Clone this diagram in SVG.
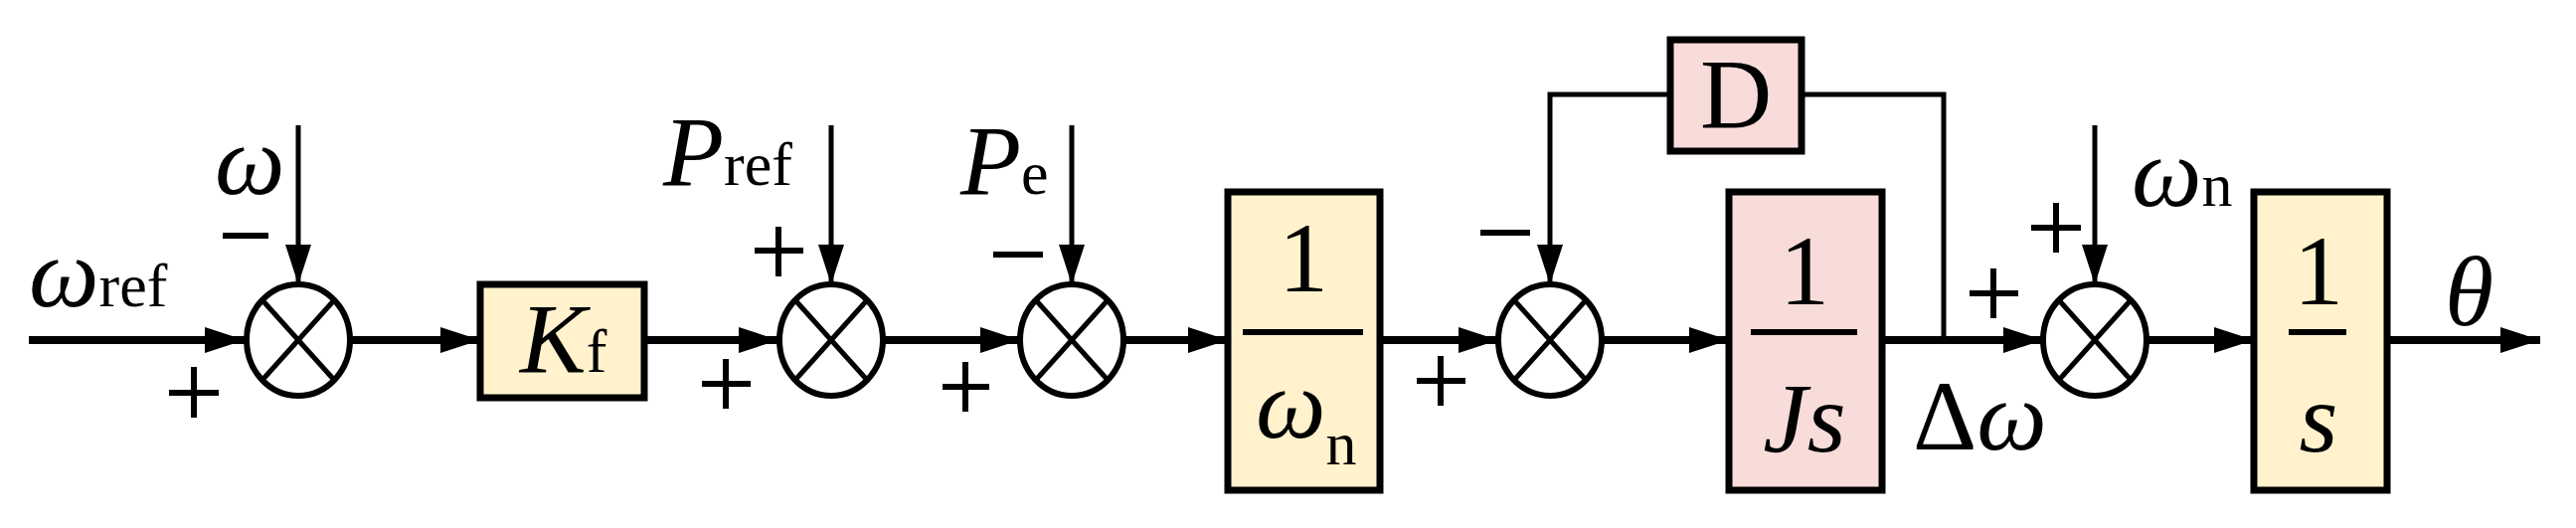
<svg xmlns="http://www.w3.org/2000/svg" width="2591" height="531" viewBox="0 0 2591 531">
<style>
.w{stroke:#000;stroke-width:8;fill:none}
.v{stroke:#000;stroke-width:5;fill:none}
.s{fill:#fff;stroke:#000;stroke-width:6}
.x{stroke:#000;stroke-width:5}
.y{fill:#FFF2CC;stroke:#000;stroke-width:7}
.p{fill:#F8DCDA;stroke:#000;stroke-width:7}
text{font-family:"Liberation Serif",serif;font-size:100px;fill:#000}
.i{font-style:italic}
.sub{font-size:62px;font-style:normal}
.sg{stroke:#000;stroke-width:6}
</style>
<defs>
<marker id="a" markerUnits="userSpaceOnUse" markerWidth="42" markerHeight="26" refX="40" refY="13" orient="auto"><path d="M0,0L40,13L0,26Z" fill="#000"/></marker>
</defs>
<g id="connectors">
<path class="w" d="M29,342H246" marker-end="url(#a)"/>
<path class="v" d="M300,126V286" marker-end="url(#a)"/>
<path class="w" d="M353,342H483" marker-end="url(#a)"/>
<path class="w" d="M648,342H783" marker-end="url(#a)"/>
<path class="v" d="M836,126V286" marker-end="url(#a)"/>
<path class="w" d="M889,342H1026" marker-end="url(#a)"/>
<path class="v" d="M1078,126V286" marker-end="url(#a)"/>
<path class="w" d="M1131,342H1235" marker-end="url(#a)"/>
<path class="w" d="M1388,342H1507" marker-end="url(#a)"/>
<path class="w" d="M1612,342H1739" marker-end="url(#a)"/>
<path class="v" d="M1680,95H1559V286" marker-end="url(#a)"/>
<path class="v" d="M1812,95H1955V342"/>
<path class="w" d="M1893,342H2055" marker-end="url(#a)"/>
<path class="v" d="M2107,126V286" marker-end="url(#a)"/>
<path class="w" d="M2160,342H2267" marker-end="url(#a)"/>
<path class="w" d="M2401,342H2555" marker-end="url(#a)"/>
</g>
<g id="sum1"><ellipse class="s" cx="300" cy="342" rx="52" ry="56"/><path class="x" d="M264,302L336,382M336,302L264,382"/></g>
<g id="sum2"><ellipse class="s" cx="836" cy="342" rx="52" ry="56"/><path class="x" d="M800,302L872,382M872,302L800,382"/></g>
<g id="sum3"><ellipse class="s" cx="1078" cy="342" rx="52" ry="56"/><path class="x" d="M1042,302L1114,382M1114,302L1042,382"/></g>
<g id="sum4"><ellipse class="s" cx="1559" cy="342" rx="52" ry="56"/><path class="x" d="M1523,302L1595,382M1595,302L1523,382"/></g>
<g id="sum5"><ellipse class="s" cx="2107" cy="342" rx="52" ry="56"/><path class="x" d="M2071,302L2143,382M2143,302L2071,382"/></g>
<g id="kf"><rect class="y" x="483" y="286" width="165" height="114"/><text x="523" y="374" class="i">K<tspan class="sub">f</tspan></text></g>
<g id="inv-wn"><rect class="y" x="1235" y="193" width="153" height="300"/><path class="sg" d="M1250,334H1371"/><text x="1311" y="293" text-anchor="middle">1</text><text x="1263" y="440" class="i">ω<tspan class="sub" dy="27">n</tspan></text></g>
<g id="D"><rect class="p" x="1680" y="40" width="132" height="112"/><text x="1746" y="128" text-anchor="middle">D</text></g>
<g id="inv-js"><rect class="p" x="1739" y="193" width="154" height="300"/><path class="sg" d="M1761,334H1868"/><text x="1815" y="306" text-anchor="middle">1</text><text x="1815" y="454" text-anchor="middle" class="i">Js</text></g>
<g id="inv-s"><rect class="y" x="2267" y="193" width="134" height="300"/><path class="sg" d="M2302,334H2360"/><text x="2332" y="306" text-anchor="middle">1</text><text x="2332" y="454" text-anchor="middle" class="i">s</text></g>
<g id="labels">
<text x="29" y="308" class="i">ω<tspan class="sub">ref</tspan></text>
<text x="216" y="195" class="i">ω</text>
<text x="667" y="186" class="i">P<tspan class="sub">ref</tspan></text>
<text x="966" y="195" class="i">P<tspan class="sub">e</tspan></text>
<text x="1924" y="452">Δ<tspan class="i">ω</tspan></text>
<text x="2144" y="207" class="i">ω<tspan class="sub">n</tspan></text>
<text x="2459" y="327" class="i">θ</text>
</g>
<g id="signs" class="sg">
<path d="M224,237H270"/>
<path d="M170,395H220M195,369V420"/>
<path d="M759,252H808M783,228V278"/>
<path d="M706,386H755M730,361V411"/>
<path d="M999,256H1049"/>
<path d="M948,389H995M971,364V414"/>
<path d="M1489,234H1539"/>
<path d="M1425,383H1474M1449,358V408"/>
<path d="M1981,295H2030M2005,270V320"/>
<path d="M2043,229H2093M2068,204V254"/>
</g>
</svg>
